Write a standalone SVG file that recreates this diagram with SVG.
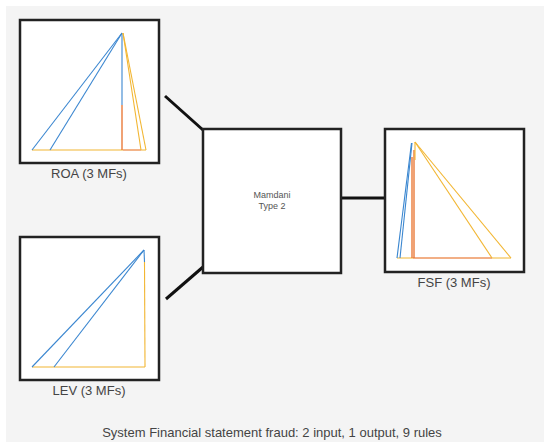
<svg xmlns="http://www.w3.org/2000/svg" width="550" height="448" viewBox="0 0 550 448">
<style>
.frame{fill:#fff;stroke:#222;stroke-width:2.5}
.lbl{font-family:"Liberation Sans",Arial,sans-serif;font-size:13px;fill:#444;text-anchor:middle}
.small{font-family:"Liberation Sans",Arial,sans-serif;font-size:9px;fill:#555;text-anchor:middle}
.b{stroke:#3a86d0;stroke-width:1.1;fill:none}
.y{stroke:#f2b632;stroke-width:1.1;fill:none}
.o{stroke:#e8702a;stroke-width:1.3;fill:none}
.s{stroke:#f0a080;stroke-width:1.3;fill:none}
.con{stroke:#111;stroke-width:3;fill:none}
</style>
<rect x="0" y="0" width="550" height="448" fill="#fff"/>
<rect x="6" y="6" width="538" height="436" fill="#f4f4f4"/>
<g id="connectors">
<line class="con" x1="165" y1="96" x2="203" y2="130"/>
<line class="con" x1="166" y1="299" x2="203" y2="267"/>
<line class="con" x1="341" y1="198" x2="384" y2="198"/>
</g>
<g id="roa">
<rect class="frame" x="20" y="20" width="139" height="143"/>
<line class="y" x1="32" y1="150" x2="146" y2="150"/>
<line class="b" x1="32" y1="150" x2="122" y2="33"/>
<line class="b" x1="50" y1="150" x2="122" y2="33"/>
<line class="b" x1="122" y1="33" x2="122" y2="105"/>
<line class="o" x1="122" y1="105" x2="122" y2="150"/>
<line class="s" x1="123" y1="150" x2="141" y2="150"/>
<line class="y" x1="123" y1="33" x2="141" y2="150"/>
<line class="y" x1="123" y1="33" x2="146" y2="150"/>
<text class="lbl" x="89" y="178">ROA (3 MFs)</text>
</g>
<g id="lev">
<rect class="frame" x="20" y="237" width="139" height="143"/>
<line class="y" x1="32" y1="367" x2="145" y2="367"/>
<line class="b" x1="32" y1="367" x2="144" y2="250"/>
<line class="b" x1="54" y1="367" x2="144" y2="250"/>
<line class="b" x1="144" y1="250" x2="144.5" y2="262"/>
<line class="y" x1="144.5" y1="262" x2="145" y2="367"/>
<text class="lbl" x="89" y="395">LEV (3 MFs)</text>
</g>
<g id="mamdani">
<rect class="frame" x="203" y="129" width="138" height="144"/>
<text class="small" x="272" y="198">Mamdani</text>
<text class="small" x="272" y="209">Type 2</text>
</g>
<g id="fsf">
<rect class="frame" x="385" y="129" width="139" height="143"/>
<line class="y" x1="397" y1="258" x2="511" y2="258"/>
<line class="s" x1="413" y1="258" x2="492" y2="258"/>
<line class="b" x1="397" y1="258" x2="411.5" y2="143"/>
<line class="b" x1="400" y1="258" x2="412" y2="143"/>
<line class="o" x1="412" y1="157" x2="412" y2="258"/>
<line class="o" x1="414" y1="150" x2="414" y2="258"/>
<line class="y" x1="415" y1="142" x2="415" y2="160"/>
<line class="y" x1="415" y1="142" x2="492" y2="258"/>
<line class="y" x1="415" y1="142" x2="511" y2="258"/>
<text class="lbl" x="454" y="287">FSF (3 MFs)</text>
</g>
<text class="lbl" x="272" y="437">System Financial statement fraud: 2 input, 1 output, 9 rules</text>
</svg>
